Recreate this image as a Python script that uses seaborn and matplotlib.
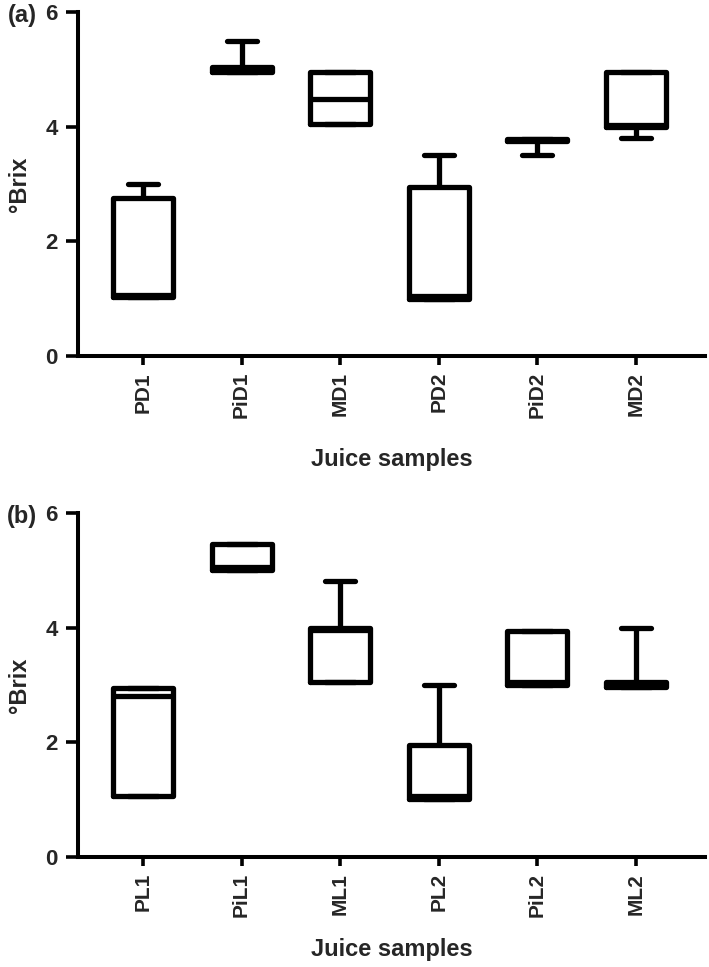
import numpy as np
import pandas as pd
import matplotlib
matplotlib.use("Agg")
import matplotlib.pyplot as plt
import seaborn as sns

# box statistics: whisker low, Q1, median, Q3, whisker high
samples_a = ["PD1", "PiD1", "MD1", "PD2", "PiD2", "MD2"]
low_a = [1.02, 4.96, 4.05, 1.0, 3.5, 3.8]
q1_a = [1.02, 4.96, 4.05, 1.0, 3.75, 3.99]
med_a = [1.07, 5.0, 4.49, 1.05, 3.77, 4.03]
q3_a = [2.75, 5.04, 4.95, 2.95, 3.79, 4.95]
high_a = [3.0, 5.5, 4.95, 3.5, 3.79, 4.95]

samples_b = ["PL1", "PiL1", "ML1", "PL2", "PiL2", "ML2"]
low_b = [1.06, 5.0, 3.06, 1.01, 3.0, 2.96]
q1_b = [1.06, 5.0, 3.06, 1.01, 3.0, 2.96]
med_b = [2.81, 5.05, 3.96, 1.06, 3.05, 3.0]
q3_b = [2.94, 5.46, 4.0, 1.95, 3.94, 3.05]
high_b = [2.94, 5.46, 4.81, 3.0, 3.94, 4.0]

y_ticks = [0, 2, 4, 6]


def to_long(samples, *stats):
    rows = []
    for i, s in enumerate(samples):
        for col in stats:
            rows.append({"sample": s, "brix": col[i]})
    return pd.DataFrame(rows)


sns.set_style("ticks")
plt.rcParams['font.family'] = ['Liberation Sans', 'DejaVu Sans']
plt.rcParams['font.weight'] = 'bold'

fig = plt.figure(figsize=(7.09, 9.67), dpi=100)
ax_a = fig.add_axes([0.110, 0.6319, 0.884, 0.3557])
ax_b = fig.add_axes([0.110, 0.1138, 0.884, 0.3557])

panels = [
    (ax_a, samples_a, to_long(samples_a, low_a, q1_a, med_a, q3_a, high_a), "(a)", 21),
    (ax_b, samples_b, to_long(samples_b, low_b, q1_b, med_b, q3_b, high_b), "(b)", 15),
]

lw = 3.8
for ax, samples, df, tag, xpad in panels:
    sns.boxplot(data=df, x="sample", y="brix", order=samples, ax=ax,
                whis=(0, 100), fill=False, color="black", linewidth=lw,
                width=0.61, showfliers=False,
                medianprops={"color": "black", "linewidth": lw},
                capprops={"color": "black", "linewidth": lw},
                whiskerprops={"color": "black", "linewidth": lw},
                boxprops={"color": "black", "linewidth": lw})
    ax.set_ylim(0, 6)
    ax.set_xlim(-0.66, 5.70)
    ax.set_yticks(y_ticks)
    ax.set_yticklabels([str(t) for t in y_ticks], fontsize=16, fontweight="bold")
    ax.set_xticks(range(len(samples)))
    ax.set_xticklabels(samples, rotation=90, fontsize=15, fontweight="bold")
    ax.tick_params(axis="y", length=8.6, width=2.6, pad=6, color="black")
    ax.tick_params(axis="x", length=6.5, width=2.6, pad=5, color="black")
    for side in ["top", "right"]:
        ax.spines[side].set_visible(False)
    for side in ["left", "bottom"]:
        ax.spines[side].set_linewidth(2.9)
        ax.spines[side].set_color("black")
    ax.set_xlabel("Juice samples", fontsize=17, fontweight="bold", labelpad=xpad)
    ax.set_ylabel("°Brix", fontsize=17, fontweight="bold", labelpad=10)
    ax.text(-0.089, 0.99, tag, transform=ax.transAxes, fontsize=17,
            fontweight="bold", ha="center", va="center")

fig.savefig("out.png", dpi=100)
